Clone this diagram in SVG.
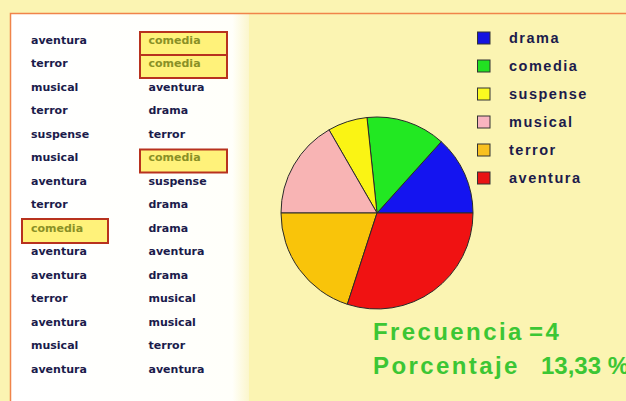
<svg xmlns="http://www.w3.org/2000/svg" width="626" height="401" viewBox="0 0 626 401">
<defs>
<linearGradient id="panelGrad" x1="0" y1="0" x2="1" y2="0">
<stop offset="0" stop-color="#ffffff"/>
<stop offset="0.93" stop-color="#fffffa"/>
<stop offset="1" stop-color="#fbf6cc"/>
</linearGradient>
<style>
.t{font-family:"DejaVu Sans",Verdana,sans-serif;font-weight:bold;font-size:11px;fill:#1b1b4b}
.c{fill:#8a9026}
.hl{fill:#fff27a;stroke:#b8321e;stroke-width:2}
.lg{font-family:"Liberation Sans",Arial,sans-serif;font-weight:bold;font-size:14.5px;letter-spacing:1.5px;fill:#1b1b4b}
.sq{stroke:#333;stroke-width:1}
.sl{stroke:#2a2a2a;stroke-width:1;stroke-linejoin:round}
.big{font-family:"Liberation Sans",Arial,sans-serif;font-weight:bold;font-size:24px;letter-spacing:2.4px;fill:#3cc634}
.num{letter-spacing:0}
</style>
</defs>
<rect x="0" y="0" width="626" height="401" fill="#fbf4b2"/>
<rect x="11" y="14" width="238" height="387" fill="url(#panelGrad)"/>
<path d="M10.5,401 L10.5,13.5 L626,13.5" fill="none" stroke="#f0844a" stroke-width="1.5"/>

<g id="highlights">
<rect class="hl" x="140" y="32" width="87" height="23"/>
<rect class="hl" x="140" y="55" width="87" height="23"/>
<rect class="hl" x="140" y="149.5" width="87" height="23"/>
<rect class="hl" x="22" y="219" width="86" height="24"/>
</g>

<g id="column1" class="t">
<text x="31" y="43.7">aventura</text>
<text x="31" y="67.2">terror</text>
<text x="31" y="90.7">musical</text>
<text x="31" y="114.2">terror</text>
<text x="31" y="137.7">suspense</text>
<text x="31" y="161.2">musical</text>
<text x="31" y="184.7">aventura</text>
<text x="31" y="208.2">terror</text>
<text x="31" y="231.7" class="t c">comedia</text>
<text x="31" y="255.2">aventura</text>
<text x="31" y="278.7">aventura</text>
<text x="31" y="302.2">terror</text>
<text x="31" y="325.7">aventura</text>
<text x="31" y="349.2">musical</text>
<text x="31" y="372.7">aventura</text>
</g>

<g id="column2" class="t">
<text x="148.5" y="43.7" class="t c">comedia</text>
<text x="148.5" y="67.2" class="t c">comedia</text>
<text x="148.5" y="90.7">aventura</text>
<text x="148.5" y="114.2">drama</text>
<text x="148.5" y="137.7">terror</text>
<text x="148.5" y="161.2" class="t c">comedia</text>
<text x="148.5" y="184.7">suspense</text>
<text x="148.5" y="208.2">drama</text>
<text x="148.5" y="231.7">drama</text>
<text x="148.5" y="255.2">aventura</text>
<text x="148.5" y="278.7">drama</text>
<text x="148.5" y="302.2">musical</text>
<text x="148.5" y="325.7">musical</text>
<text x="148.5" y="349.2">terror</text>
<text x="148.5" y="372.7">aventura</text>
</g>

<g id="pie">
<path class="sl" fill="#1414f0" d="M377,213 L473,213 A96,96 0 0 0 441.24,141.66 Z"/>
<path class="sl" fill="#22e822" d="M377,213 L441.24,141.66 A96,96 0 0 0 366.97,117.53 Z"/>
<path class="sl" fill="#faf414" d="M377,213 L366.97,117.53 A96,96 0 0 0 329,129.86 Z"/>
<path class="sl" fill="#f8b4b4" d="M377,213 L329,129.86 A96,96 0 0 0 281,213 Z"/>
<path class="sl" fill="#f9c40a" d="M377,213 L281,213 A96,96 0 0 0 347.33,304.3 Z"/>
<path class="sl" fill="#f01212" d="M377,213 L347.33,304.3 A96,96 0 0 0 473,213 Z"/>
</g>

<g id="legend">
<rect class="sq" x="477.5" y="32" width="12.5" height="12" fill="#1414e0"/>
<rect class="sq" x="477.5" y="60" width="12.5" height="12" fill="#22e022"/>
<rect class="sq" x="477.5" y="88" width="12.5" height="12" fill="#fafa20"/>
<rect class="sq" x="477.5" y="116" width="12.5" height="12" fill="#f8b4c0"/>
<rect class="sq" x="477.5" y="144" width="12.5" height="12" fill="#f8c020"/>
<rect class="sq" x="477.5" y="172" width="12.5" height="12" fill="#e81414"/>
<text class="lg" x="509" y="42.8">drama</text>
<text class="lg" x="509" y="70.8">comedia</text>
<text class="lg" x="509" y="98.8">suspense</text>
<text class="lg" x="509" y="126.8">musical</text>
<text class="lg" x="509" y="154.8">terror</text>
<text class="lg" x="509" y="182.8">aventura</text>
</g>

<g id="result">
<text class="big" x="373" y="340">Frecuencia</text>
<text class="big" x="529" y="340">=4</text>
<text class="big" x="373" y="374">Porcentaje</text>
<text class="big num" x="541" y="374">13,33 %</text>
</g>
</svg>
